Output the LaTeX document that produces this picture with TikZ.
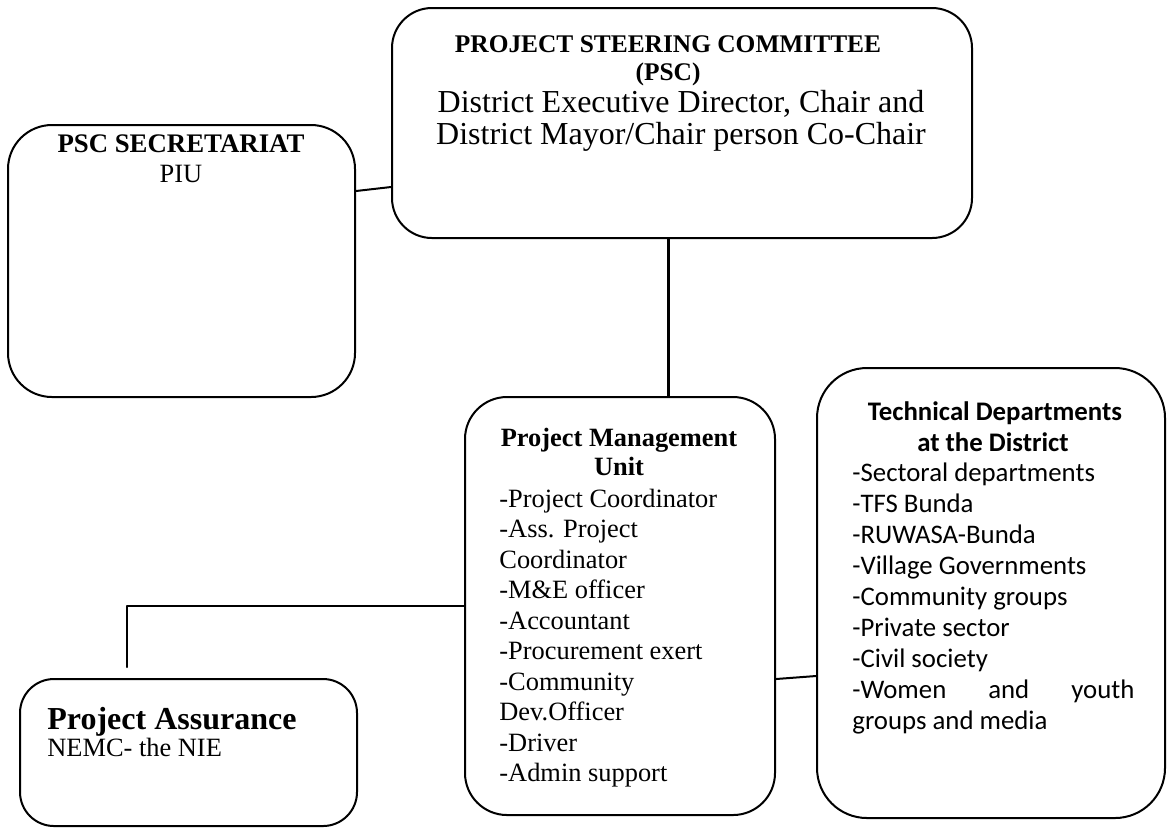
\documentclass[tikz,border=0pt]{standalone}
\usepackage{fontspec}
\setmainfont{Liberation Serif}
\newfontfamily\calibri{Carlito}
\usetikzlibrary{positioning}
\tikzset{
  box/.style={draw,line width=1pt,rounded corners=#1,inner sep=0pt},
  box/.default=20pt,
  link/.style={line width=1pt,line cap=round},
  txt/.style={anchor=base,inner sep=0pt},
  item/.style={anchor=base west,inner sep=0pt},
}
\begin{document}
\begin{tikzpicture}[x=0.5pt,y=-0.5pt,line join=round]
\useasboundingbox[fill=white] (0,0) rectangle (1170,827);
% boxes
\node[box=20pt,minimum width=290pt,minimum height=115pt] (psc) at (682,123) {};
\node[box=22pt,minimum width=173.5pt,minimum height=136pt] (sec) at (181.5,261) {};
\node[box=21pt,minimum width=155pt,minimum height=209pt] (pmu) at (620,606) {};
\node[box=25pt,minimum width=174pt,minimum height=225pt] (tech) at (991,593) {};
\node[box=17pt,minimum width=168.5pt,minimum height=73.5pt] (pa) at (188.5,752.5) {};
% texts
\node[txt,font=\fontsize{12.7}{14}\selectfont\bfseries] (psc-t1) at (668,52) {PROJECT STEERING COMMITTEE};
\node[txt,font=\fontsize{12.7}{14}\selectfont\bfseries] (psc-t2) at (668,80) {(PSC)};
\node[txt,font=\fontsize{16}{18}\selectfont] (psc-t3) at (681,112) {District Executive Director, Chair and};
\node[txt,font=\fontsize{16}{18}\selectfont] (psc-t4) at (681,144) {District Mayor/Chair person Co-Chair};
\node[txt,font=\fontsize{13.4}{15}\selectfont\bfseries] (sec-t1) at (181,152) {PSC SECRETARIAT};
\node[txt,font=\fontsize{13.2}{15}\selectfont] (sec-t2) at (181,182) {PIU};
\node[txt,font=\fontsize{13.2}{15}\selectfont\bfseries] (pmu-t1) at (619,446) {Project Management};
\node[txt,font=\fontsize{13.2}{15}\selectfont\bfseries] (pmu-t2) at (619,475) {Unit};
\foreach \t [count=\i from 0] in {-Project Coordinator,-Ass. Project,Coordinator,-M\&E officer,-Accountant,-Procurement exert,-Community,Dev.Officer,-Driver,-Admin support}
  \node[item,font=\fontsize{13.2}{15}\selectfont] (pmu-\i) at (499,{507+30.5*\i}) {\t};
\node[txt,font=\fontsize{13.4}{15}\calibri\bfseries] (tech-t1) at (995,420) {Technical Departments};
\node[txt,font=\fontsize{13.4}{15}\calibri\bfseries] (tech-t2) at (993,451) {at the District};
\foreach \t [count=\i from 0] in {-Sectoral departments,-TFS Bunda,-RUWASA-Bunda,-Village Governments,-Community groups,-Private sector,-Civil society,\hbox to 141pt{-Women\hfill and\hfill youth},groups and media}
  \node[item,font=\fontsize{13.4}{15}\calibri] (tech-\i) at (852,{481+31*\i}) {\t};
\node[item,font=\fontsize{16}{18}\selectfont\bfseries] (pa-t1) at (47,729) {Project Assurance};
\node[item,font=\fontsize{13.2}{15}\selectfont] (pa-t2) at (47,756) {NEMC- the NIE};
% connectors
\draw[link] ([yshift=35pt]sec.east) -- ([yshift=-32pt]psc.west);
\draw[link,line width=1.5pt] ([xshift=-7pt]psc.south) -- ([xshift=24pt]pmu.north);
\draw[link] (pmu.west) -| ([xshift=-30.75pt,yshift=5.5pt]pa.north);
\draw[link] ([yshift=-36.5pt]pmu.east) -- ([yshift=-41.5pt]tech.west);
\end{tikzpicture}
\end{document}
